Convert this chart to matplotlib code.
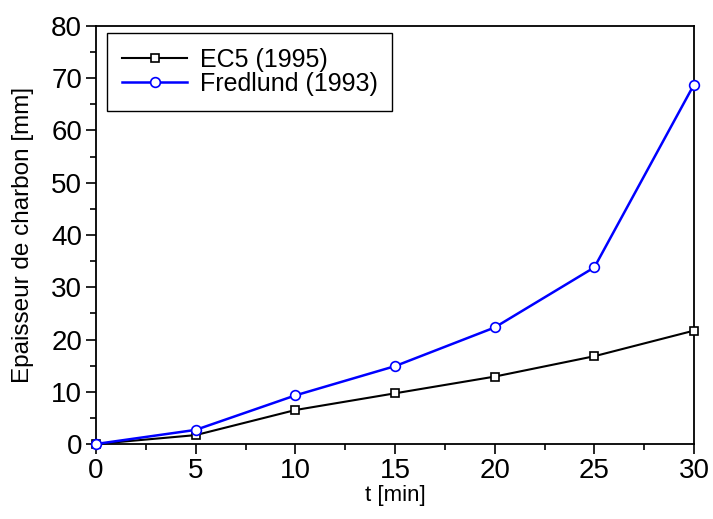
import matplotlib
matplotlib.use("Agg")
import matplotlib.pyplot as plt
from matplotlib.ticker import MultipleLocator

plt.rcParams['font.family'] = ['Liberation Sans', 'DejaVu Sans']

t = [0, 5, 10, 15, 20, 25, 30]
ec5 = [0, 1.7, 6.5, 9.7, 12.9, 16.8, 21.7]
fredlund = [0, 2.7, 9.3, 14.9, 22.3, 33.8, 68.8]

fig = plt.figure(figsize=(7.13, 5.19), dpi=100)
ax = fig.add_axes([96/713, 75/519, 598/713, 418/519])

ax.plot(t, ec5, 'k-', marker='s', ms=6, mfc='white', mec='black', mew=1.2, lw=1.5,
        label='EC5 (1995)', clip_on=False, zorder=3)
ax.plot(t, fredlund, '-', color='#0000ff', marker='o', ms=7, mfc='white',
        mec='#0000ff', mew=1.2, lw=1.8, label='Fredlund (1993)', clip_on=False, zorder=3)

ax.set_xlim(0, 30)
ax.set_ylim(0, 80)
ax.xaxis.set_major_locator(MultipleLocator(5))
ax.xaxis.set_minor_locator(MultipleLocator(2.5))
ax.yaxis.set_major_locator(MultipleLocator(10))
ax.yaxis.set_minor_locator(MultipleLocator(5))
ax.tick_params(which='both', direction='out', width=1.2, labelsize=20)
ax.tick_params(which='major', length=7, pad=3)
ax.tick_params(which='minor', length=4)
for s in ax.spines.values():
    s.set_linewidth(1.3)

ax.set_xlabel('t [min]', fontsize=16, labelpad=1)
ax.set_ylabel('Epaisseur de charbon [mm]', fontsize=17.5, labelpad=12)

leg = ax.legend(loc='upper left', fontsize=18, fancybox=False, edgecolor='black',
                framealpha=1, handlelength=2.6, borderpad=0.6, labelspacing=0.0,
                handletextpad=0.5, borderaxespad=0,
                bbox_to_anchor=(11/598, (444-33)/418))
leg.get_frame().set_linewidth(1.0)

fig.savefig('out.png', dpi=100)
